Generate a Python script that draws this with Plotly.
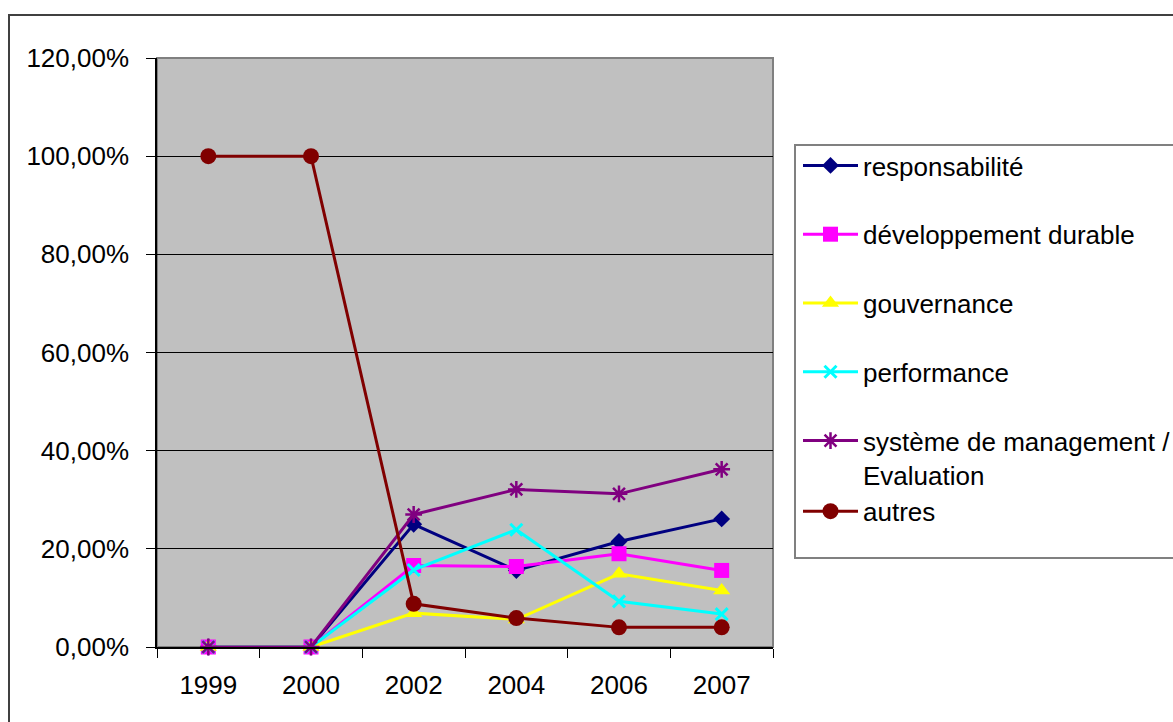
import plotly.graph_objects as go

years = ["1999", "2000", "2002", "2004", "2006", "2007"]

responsabilite = [0, 0, 25.0, 15.6, 21.5, 26.1]
developpement_durable = [0, 0, 16.6, 16.4, 19.0, 15.6]
gouvernance = [0, 0, 6.9, 5.6, 14.9, 11.5]
performance = [0, 0, 15.7, 23.9, 9.3, 6.7]
systeme_management = [0, 0, 27.0, 32.1, 31.2, 36.2]
autres = [100, 100, 8.8, 5.9, 4.0, 4.0]

y_ticks = [0, 20, 40, 60, 80, 100, 120]
y_tick_text = ["0,00%", "20,00%", "40,00%", "60,00%", "80,00%", "100,00%", "120,00%"]

series = [
    ("responsabilité", responsabilite, "#000080",
     dict(symbol="diamond", size=13), "g1"),
    ("développement durable", developpement_durable, "#FF00FF",
     dict(symbol="square", size=15), "g2"),
    ("gouvernance", gouvernance, "#FFFF00",
     dict(symbol="triangle-up", size=15), "g3"),
    ("performance", performance, "#00FFFF",
     dict(symbol="x-thin-open", size=12, line=dict(width=3, color="#00FFFF")), "g4"),
    ("système de management /<br>Evaluation", systeme_management, "#800080",
     dict(symbol="asterisk-open", size=14, line=dict(width=2.5, color="#800080")), "g5"),
    ("autres", autres, "#800000",
     dict(symbol="circle", size=16), "g5"),
]

fig = go.Figure()
for name, values, color, marker, group in series:
    fig.add_trace(go.Scatter(
        x=years, y=values, name=name, mode="lines+markers",
        line=dict(color=color, width=3),
        marker=dict(color=color, **marker),
        legendgroup=group, cliponaxis=False,
    ))

font = dict(family="Liberation Sans, Arial, sans-serif", size=26, color="#000000")

fig.update_layout(
    width=1173, height=722,
    margin=dict(l=157, r=400, t=58, b=75, autoexpand=False),
    paper_bgcolor="#FFFFFF",
    plot_bgcolor="#C0C0C0",
    font=font,
    showlegend=True,
    legend=dict(
        xref="container", yref="container",
        x=798 / 1173, y=1 - 142 / 722, xanchor="left", yanchor="top",
        bgcolor="rgba(0,0,0,0)", borderwidth=0,
        traceorder="grouped", tracegroupgap=32,
        valign="top", font=font, itemwidth=55, maxheight=600,
    ),
    xaxis=dict(
        type="category", range=[-0.5, 5.5], showgrid=False,
        showline=True, linecolor="#000000", linewidth=1.5,
        ticks="outside", tickson="boundaries", ticklen=9, tickcolor="#000000",
        ticklabelstandoff=14,
        zeroline=False,
    ),
    yaxis=dict(
        range=[0, 120], tickvals=y_ticks, ticktext=y_tick_text,
        showgrid=True, gridcolor="#000000", gridwidth=1,
        showline=True, linecolor="#000000", linewidth=1.5,
        ticks="outside", ticklen=9, tickcolor="#000000",
        ticklabelstandoff=12,
        zeroline=False,
    ),
    shapes=[
        # plot area frame (top/right in grey)
        dict(type="rect", xref="paper", yref="paper", x0=0, x1=1, y0=0, y1=1,
             line=dict(color="#808080", width=2), layer="below"),
        # legend box
        dict(type="rect", xref="paper", yref="paper",
             x0=(795 - 157) / 616, x1=1.8,
             y0=(647 - 558) / 589, y1=(647 - 145) / 589,
             line=dict(color="#808080", width=2)),
        # chart area border
        dict(type="rect", xref="paper", yref="paper",
             x0=(9 - 157) / 616, x1=2.0,
             y0=-0.5, y1=(647 - 15) / 589,
             line=dict(color="#404040", width=2)),
    ],
)

fig.write_html("out.html")
